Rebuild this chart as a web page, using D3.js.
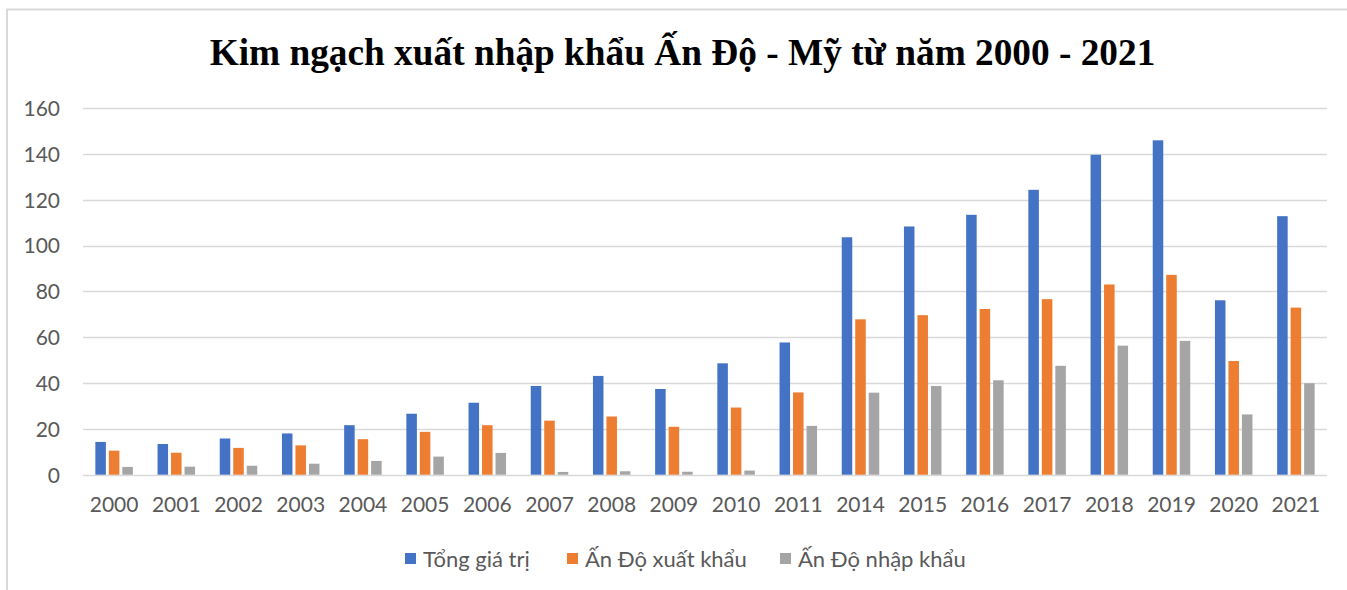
<!DOCTYPE html>
<html>
<head>
<meta charset="utf-8">
<script src="https://cdn.jsdelivr.net/npm/d3@7"></script>
<style>
html,body{margin:0;padding:0;background:#fff;}
svg{display:block;}
</style>
</head>
<body>
<svg id="chart" width="1347" height="590"></svg>
<script>
const years = ["2000","2001","2002","2003","2004","2005","2006","2007","2008","2009","2010","2011","2014","2015","2016","2017","2018","2019","2020","2021"];
const tongGiaTri = [14.3,13.4,15.8,18.0,21.6,26.6,31.4,38.7,43.1,37.4,48.6,57.7,103.6,108.3,113.4,124.3,139.6,145.9,76.1,112.8];
const xuatKhau = [10.5,9.6,11.7,12.8,15.5,18.7,21.6,23.6,25.4,20.9,29.3,35.9,67.8,69.6,72.3,76.6,83.0,87.2,49.6,72.9];
const nhapKhau = [3.4,3.5,3.9,4.8,6.0,7.9,9.5,1.2,1.5,1.3,1.8,21.3,35.8,38.7,41.2,47.5,56.3,58.4,26.3,39.9];
const seriesNames = ["Tổng giá trị","Ấn Độ xuất khẩu","Ấn Độ nhập khẩu"];
const seriesColors = ["#4472C4","#ED7D31","#A5A5A5"];
const yTicks = [0,20,40,60,80,100,120,140,160];
const title = "Kim ngạch xuất nhập khẩu Ấn Độ - Mỹ từ năm 2000 - 2021";

const seriesData = [tongGiaTri, xuatKhau, nhapKhau];
const svg = d3.select("#chart");
const font = "Lato, 'Open Sans', sans-serif";

// chart border
svg.append("path").attr("d","M7,600 V9.5 H1360").attr("fill","none").attr("stroke","#d9d9d9").attr("stroke-width",2);

const plotLeft = 83, plotRight = 1327, plotTop = 108, plotBottom = 474.7;
const x0 = d3.scaleBand().domain(years).range([plotLeft,plotRight]).paddingInner(0.397).paddingOuter(0.1985);
const x1 = d3.scaleBand().domain(d3.range(3)).range([0,x0.bandwidth()]).paddingInner(0.22);
const y = d3.scaleLinear().domain([0,160]).range([plotBottom,plotTop]);

// gridlines
svg.append("g").selectAll("line").data(yTicks).join("line")
  .attr("x1",plotLeft).attr("x2",plotRight)
  .attr("y1",d=>Math.round(y(d))+0.5).attr("y2",d=>Math.round(y(d))+0.5)
  .attr("stroke","#d9d9d9").attr("stroke-width",1.5);

// y axis labels
const yAxis = d3.axisLeft(y).tickValues(yTicks).tickSize(0).tickPadding(0);
const gy = svg.append("g").attr("transform",`translate(60,0)`).call(yAxis);
gy.select(".domain").remove();
gy.selectAll("text").attr("font-family",font).attr("font-size",21).attr("fill","#595959").attr("dy","0.35em");

// x axis labels
const xAxis = d3.axisBottom(x0).tickSize(0).tickPadding(0);
const gx = svg.append("g").attr("transform",`translate(0,505)`).call(xAxis);
gx.select(".domain").remove();
gx.selectAll("text").attr("font-family",font).attr("font-size",21).attr("fill","#595959").attr("dy","0.35em");

// bars
years.forEach((yr,i)=>{
  const g = svg.append("g").attr("transform",`translate(${x0(yr)},0)`);
  seriesData.forEach((s,k)=>{
    g.append("rect").attr("x",x1(k)).attr("width",x1.bandwidth())
      .attr("y",y(s[i])).attr("height",y(0)-y(s[i]))
      .attr("fill",seriesColors[k]);
  });
});

// title
svg.append("text").attr("x",682.5).attr("y",52).attr("text-anchor","middle").attr("dy","0.35em")
  .attr("font-family","'Liberation Serif','Times New Roman',serif").attr("font-weight","bold")
  .attr("font-size",37.3).attr("fill","#000").text(title);

// legend
const legendX = [405,567,780];
const lg = svg.append("g");
seriesNames.forEach((n,k)=>{
  lg.append("rect").attr("x",legendX[k]).attr("y",553).attr("width",11).attr("height",11).attr("fill",seriesColors[k]);
  lg.append("text").attr("x",legendX[k]+18).attr("y",559).attr("dy","0.35em")
    .attr("font-family",font).attr("font-size",22).attr("fill","#595959").text(n);
});
</script>
</body>
</html>
